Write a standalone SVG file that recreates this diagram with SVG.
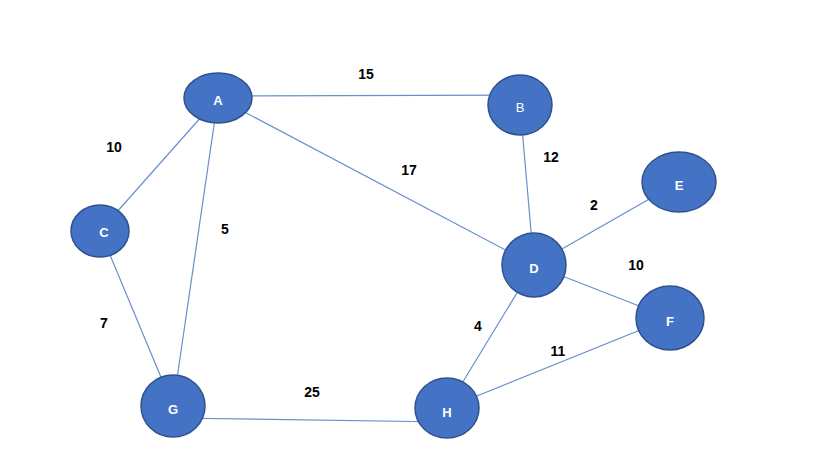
<svg xmlns="http://www.w3.org/2000/svg" width="838" height="475" viewBox="0 0 838 475">
<style>
.n{fill:#4472C4;stroke:#2F528F;stroke-width:1.5}
.t{fill:#fff;font-family:"Liberation Sans",Arial,sans-serif;font-size:13px;font-weight:bold;text-anchor:middle;dominant-baseline:central}
.l{fill:#000;font-family:"Liberation Sans",Arial,sans-serif;font-size:14px;font-weight:bold;text-anchor:middle;dominant-baseline:central}
.e{stroke:#6A8FCB;stroke-width:1.2;fill:none}
</style>
<rect width="838" height="475" fill="#fff"/>
<g id="connectors">
<line class="e" x1="218" y1="96" x2="520" y2="95"/>
<line class="e" x1="218" y1="98" x2="534" y2="265"/>
<line class="e" x1="218" y1="98" x2="100" y2="231"/>
<line class="e" x1="218" y1="98" x2="173" y2="406"/>
<line class="e" x1="520" y1="105" x2="534" y2="265"/>
<line class="e" x1="534" y1="265" x2="679" y2="182"/>
<line class="e" x1="534" y1="265" x2="670" y2="318"/>
<line class="e" x1="534" y1="265" x2="447" y2="408"/>
<line class="e" x1="100" y1="231" x2="173" y2="406"/>
<line class="e" x1="173" y1="418" x2="447" y2="422"/>
<line class="e" x1="447" y1="408" x2="670" y2="318"/>
</g>
<g id="labels">
<text class="l" x="366" y="74">15</text>
<text class="l" x="409" y="170">17</text>
<text class="l" x="114" y="147">10</text>
<text class="l" x="225" y="229">5</text>
<text class="l" x="551" y="157">12</text>
<text class="l" x="594" y="205">2</text>
<text class="l" x="636" y="265">10</text>
<text class="l" x="478" y="326">4</text>
<text class="l" x="558" y="351">11</text>
<text class="l" x="104" y="323">7</text>
<text class="l" x="312" y="392">25</text>
</g>
<g id="A"><ellipse class="n" cx="218" cy="98" rx="34" ry="25"/><text class="t" x="218" y="100">A</text></g>
<g id="B"><ellipse class="n" cx="520" cy="105" rx="32" ry="30"/><text class="t" x="520" y="107" style="font-weight:normal">B</text></g>
<g id="C"><ellipse class="n" cx="100" cy="231" rx="29" ry="26"/><text class="t" x="104" y="232">C</text></g>
<g id="D"><ellipse class="n" cx="534" cy="265" rx="32" ry="32"/><text class="t" x="534" y="268">D</text></g>
<g id="E"><ellipse class="n" cx="679" cy="182" rx="37" ry="30"/><text class="t" x="679" y="185">E</text></g>
<g id="F"><ellipse class="n" cx="670" cy="318" rx="34" ry="32"/><text class="t" x="670" y="321">F</text></g>
<g id="G"><ellipse class="n" cx="173" cy="406" rx="32" ry="31"/><text class="t" x="173" y="409">G</text></g>
<g id="H"><ellipse class="n" cx="447" cy="408" rx="32" ry="30"/><text class="t" x="447" y="412">H</text></g>
</svg>
